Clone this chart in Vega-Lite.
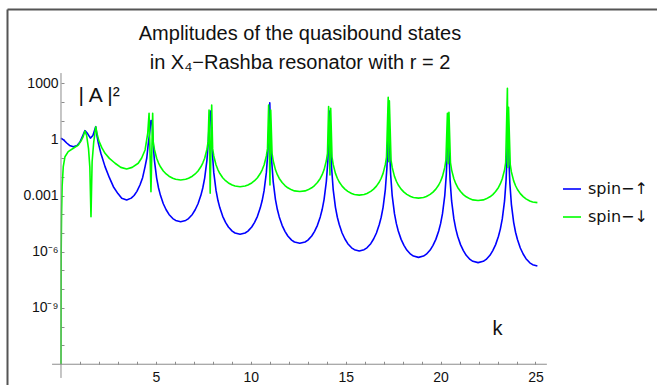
{
"$schema": "https://vega.github.io/schema/vega-lite/v6.json",
"width": 650, "height": 376,
"autosize": {"type": "none"},
"padding": {"left": 7, "top": 9, "right": 0, "bottom": 0},
"background": "white",
"config": {"view": {"stroke": null}},
"title": {"text": ["Amplitudes of the quasibound states", "in X₄−Rashba resonator with r = 2"], "fontSize": 20, "font": "Liberation Sans", "fontWeight": "normal", "color": "#111", "lineHeight": 29, "anchor": "middle", "dx": -32, "offset": -64},
"data": {"values": [
{"k":0,"A2":1.15,"spin":"spin−↑"},{"k":0.15,"A2":0.891,"spin":"spin−↑"},{"k":0.3,"A2":0.631,"spin":"spin−↑"},{"k":0.45,"A2":0.468,"spin":"spin−↑"},{"k":0.65,"A2":0.398,"spin":"spin−↑"},{"k":0.85,"A2":0.468,"spin":"spin−↑"},{"k":1.0,"A2":0.708,"spin":"spin−↑"},{"k":1.15,"A2":1.585,"spin":"spin−↑"},{"k":1.26,"A2":2.88,"spin":"spin−↑"},{"k":1.4,"A2":2.0,"spin":"spin−↑"},{"k":1.55,"A2":1.15,"spin":"spin−↑"},{"k":1.68,"A2":1.585,"spin":"spin−↑"},{"k":1.83,"A2":4.68,"spin":"spin−↑"},{"k":1.9,"A2":1.41,"spin":"spin−↑"},{"k":1.97,"A2":0.603,"spin":"spin−↑"},{"k":2.1,"A2":0.178,"spin":"spin−↑"},{"k":2.32,"A2":0.0347,"spin":"spin−↑"},{"k":2.55,"A2":0.00891,"spin":"spin−↑"},{"k":2.76,"A2":0.00295,"spin":"spin−↑"},{"k":3.0,"A2":0.00126,"spin":"spin−↑"},{"k":3.2,"A2":0.000708,"spin":"spin−↑"},{"k":3.46,"A2":0.000575,"spin":"spin−↑"},{"k":3.7,"A2":0.000724,"spin":"spin−↑"},{"k":3.85,"A2":0.001,"spin":"spin−↑"},{"k":4.0,"A2":0.00166,"spin":"spin−↑"},{"k":4.16,"A2":0.00363,"spin":"spin−↑"},{"k":4.3,"A2":0.00891,"spin":"spin−↑"},{"k":4.43,"A2":0.0347,"spin":"spin−↑"},{"k":4.52,"A2":0.1,"spin":"spin−↑"},{"k":4.6,"A2":0.603,"spin":"spin−↑"},{"k":4.68,"A2":2.51,"spin":"spin−↑"},{"k":4.74,"A2":10,"spin":"spin−↑"},
{"k":4.80,"A2":9.55,"spin":"spin−↑"},{"k":4.84,"A2":1.0,"spin":"spin−↑"},{"k":4.92,"A2":0.0776,"spin":"spin−↑"},{"k":5.04,"A2":0.00851,"spin":"spin−↑"},{"k":5.14,"A2":0.00251,"spin":"spin−↑"},{"k":5.24,"A2":0.00102,"spin":"spin−↑"},{"k":5.39,"A2":3.63e-4,"spin":"spin−↑"},{"k":5.54,"A2":1.74e-4,"spin":"spin−↑"},{"k":5.69,"A2":9.77e-5,"spin":"spin−↑"},{"k":5.89,"A2":5.89e-5,"spin":"spin−↑"},{"k":6.04,"A2":4.68e-5,"spin":"spin−↑"},{"k":6.305,"A2":3.98e-5,"spin":"spin−↑"},{"k":6.57,"A2":4.68e-5,"spin":"spin−↑"},{"k":6.72,"A2":5.89e-5,"spin":"spin−↑"},{"k":6.92,"A2":9.77e-5,"spin":"spin−↑"},{"k":7.07,"A2":1.74e-4,"spin":"spin−↑"},{"k":7.22,"A2":3.63e-4,"spin":"spin−↑"},{"k":7.37,"A2":0.00102,"spin":"spin−↑"},{"k":7.47,"A2":0.00251,"spin":"spin−↑"},{"k":7.57,"A2":0.00851,"spin":"spin−↑"},{"k":7.69,"A2":0.0776,"spin":"spin−↑"},{"k":7.77,"A2":1.0,"spin":"spin−↑"},{"k":7.81,"A2":9.55,"spin":"spin−↑"},{"k":7.87,"A2":31.6,"spin":"spin−↑"},
{"k":7.93,"A2":2.04,"spin":"spin−↑"},{"k":7.97,"A2":0.214,"spin":"spin−↑"},{"k":8.05,"A2":0.0166,"spin":"spin−↑"},{"k":8.17,"A2":0.00182,"spin":"spin−↑"},{"k":8.27,"A2":5.37e-4,"spin":"spin−↑"},{"k":8.37,"A2":2.19e-4,"spin":"spin−↑"},{"k":8.52,"A2":7.76e-5,"spin":"spin−↑"},{"k":8.67,"A2":3.72e-5,"spin":"spin−↑"},{"k":8.82,"A2":2.09e-5,"spin":"spin−↑"},{"k":9.02,"A2":1.26e-5,"spin":"spin−↑"},{"k":9.17,"A2":1.0e-5,"spin":"spin−↑"},{"k":9.435,"A2":8.51e-6,"spin":"spin−↑"},{"k":9.7,"A2":1.0e-5,"spin":"spin−↑"},{"k":9.85,"A2":1.26e-5,"spin":"spin−↑"},{"k":10.05,"A2":2.09e-5,"spin":"spin−↑"},{"k":10.2,"A2":3.72e-5,"spin":"spin−↑"},{"k":10.35,"A2":7.76e-5,"spin":"spin−↑"},{"k":10.5,"A2":2.19e-4,"spin":"spin−↑"},{"k":10.6,"A2":5.37e-4,"spin":"spin−↑"},{"k":10.7,"A2":0.00182,"spin":"spin−↑"},{"k":10.82,"A2":0.0166,"spin":"spin−↑"},{"k":10.9,"A2":0.214,"spin":"spin−↑"},{"k":10.94,"A2":2.04,"spin":"spin−↑"},{"k":11.0,"A2":89.1,"spin":"spin−↑"},
{"k":11.06,"A2":0.676,"spin":"spin−↑"},{"k":11.1,"A2":0.0708,"spin":"spin−↑"},{"k":11.18,"A2":0.0055,"spin":"spin−↑"},{"k":11.3,"A2":6.03e-4,"spin":"spin−↑"},{"k":11.4,"A2":1.78e-4,"spin":"spin−↑"},{"k":11.5,"A2":7.24e-5,"spin":"spin−↑"},{"k":11.65,"A2":2.57e-5,"spin":"spin−↑"},{"k":11.8,"A2":1.23e-5,"spin":"spin−↑"},{"k":11.95,"A2":6.92e-6,"spin":"spin−↑"},{"k":12.15,"A2":4.17e-6,"spin":"spin−↑"},{"k":12.3,"A2":3.31e-6,"spin":"spin−↑"},{"k":12.58,"A2":2.82e-6,"spin":"spin−↑"},{"k":12.86,"A2":3.31e-6,"spin":"spin−↑"},{"k":13.01,"A2":4.17e-6,"spin":"spin−↑"},{"k":13.21,"A2":6.92e-6,"spin":"spin−↑"},{"k":13.36,"A2":1.23e-5,"spin":"spin−↑"},{"k":13.51,"A2":2.57e-5,"spin":"spin−↑"},{"k":13.66,"A2":7.24e-5,"spin":"spin−↑"},{"k":13.76,"A2":1.78e-4,"spin":"spin−↑"},{"k":13.86,"A2":6.03e-4,"spin":"spin−↑"},{"k":13.98,"A2":0.0055,"spin":"spin−↑"},{"k":14.06,"A2":0.0708,"spin":"spin−↑"},{"k":14.1,"A2":0.676,"spin":"spin−↑"},{"k":14.16,"A2":31.6,"spin":"spin−↑"},
{"k":14.22,"A2":0.263,"spin":"spin−↑"},{"k":14.26,"A2":0.0275,"spin":"spin−↑"},{"k":14.34,"A2":0.00214,"spin":"spin−↑"},{"k":14.46,"A2":2.34e-4,"spin":"spin−↑"},{"k":14.56,"A2":6.92e-5,"spin":"spin−↑"},{"k":14.66,"A2":2.82e-5,"spin":"spin−↑"},{"k":14.81,"A2":1.0e-5,"spin":"spin−↑"},{"k":14.96,"A2":4.79e-6,"spin":"spin−↑"},{"k":15.11,"A2":2.69e-6,"spin":"spin−↑"},{"k":15.31,"A2":1.62e-6,"spin":"spin−↑"},{"k":15.46,"A2":1.29e-6,"spin":"spin−↑"},{"k":15.715,"A2":1.1e-6,"spin":"spin−↑"},{"k":15.97,"A2":1.29e-6,"spin":"spin−↑"},{"k":16.12,"A2":1.62e-6,"spin":"spin−↑"},{"k":16.32,"A2":2.69e-6,"spin":"spin−↑"},{"k":16.47,"A2":4.79e-6,"spin":"spin−↑"},{"k":16.62,"A2":1.0e-5,"spin":"spin−↑"},{"k":16.77,"A2":2.82e-5,"spin":"spin−↑"},{"k":16.87,"A2":6.92e-5,"spin":"spin−↑"},{"k":16.97,"A2":2.34e-4,"spin":"spin−↑"},{"k":17.09,"A2":0.00214,"spin":"spin−↑"},{"k":17.17,"A2":0.0275,"spin":"spin−↑"},{"k":17.21,"A2":0.263,"spin":"spin−↑"},{"k":17.27,"A2":63.1,"spin":"spin−↑"},
{"k":17.33,"A2":0.12,"spin":"spin−↑"},{"k":17.37,"A2":0.0126,"spin":"spin−↑"},{"k":17.45,"A2":9.77e-4,"spin":"spin−↑"},{"k":17.57,"A2":1.07e-4,"spin":"spin−↑"},{"k":17.67,"A2":3.16e-5,"spin":"spin−↑"},{"k":17.77,"A2":1.29e-5,"spin":"spin−↑"},{"k":17.92,"A2":4.57e-6,"spin":"spin−↑"},{"k":18.07,"A2":2.19e-6,"spin":"spin−↑"},{"k":18.22,"A2":1.23e-6,"spin":"spin−↑"},{"k":18.42,"A2":7.41e-7,"spin":"spin−↑"},{"k":18.57,"A2":5.89e-7,"spin":"spin−↑"},{"k":18.835,"A2":5.01e-7,"spin":"spin−↑"},{"k":19.1,"A2":5.89e-7,"spin":"spin−↑"},{"k":19.25,"A2":7.41e-7,"spin":"spin−↑"},{"k":19.45,"A2":1.23e-6,"spin":"spin−↑"},{"k":19.6,"A2":2.19e-6,"spin":"spin−↑"},{"k":19.75,"A2":4.57e-6,"spin":"spin−↑"},{"k":19.9,"A2":1.29e-5,"spin":"spin−↑"},{"k":20.0,"A2":3.16e-5,"spin":"spin−↑"},{"k":20.1,"A2":1.07e-4,"spin":"spin−↑"},{"k":20.22,"A2":9.77e-4,"spin":"spin−↑"},{"k":20.3,"A2":0.0126,"spin":"spin−↑"},{"k":20.34,"A2":0.12,"spin":"spin−↑"},{"k":20.4,"A2":15.8,"spin":"spin−↑"},
{"k":20.46,"A2":0.0631,"spin":"spin−↑"},{"k":20.5,"A2":0.00661,"spin":"spin−↑"},{"k":20.58,"A2":5.13e-4,"spin":"spin−↑"},{"k":20.7,"A2":5.62e-5,"spin":"spin−↑"},{"k":20.8,"A2":1.66e-5,"spin":"spin−↑"},{"k":20.9,"A2":6.76e-6,"spin":"spin−↑"},{"k":21.05,"A2":2.4e-6,"spin":"spin−↑"},{"k":21.2,"A2":1.15e-6,"spin":"spin−↑"},{"k":21.35,"A2":6.46e-7,"spin":"spin−↑"},{"k":21.55,"A2":3.89e-7,"spin":"spin−↑"},{"k":21.7,"A2":3.09e-7,"spin":"spin−↑"},{"k":21.975,"A2":2.63e-7,"spin":"spin−↑"},{"k":22.25,"A2":3.09e-7,"spin":"spin−↑"},{"k":22.4,"A2":3.89e-7,"spin":"spin−↑"},{"k":22.6,"A2":6.46e-7,"spin":"spin−↑"},{"k":22.75,"A2":1.15e-6,"spin":"spin−↑"},{"k":22.9,"A2":2.4e-6,"spin":"spin−↑"},{"k":23.05,"A2":6.76e-6,"spin":"spin−↑"},{"k":23.15,"A2":1.66e-5,"spin":"spin−↑"},{"k":23.25,"A2":5.62e-5,"spin":"spin−↑"},{"k":23.37,"A2":5.13e-4,"spin":"spin−↑"},{"k":23.45,"A2":0.00661,"spin":"spin−↑"},{"k":23.49,"A2":0.0631,"spin":"spin−↑"},{"k":23.55,"A2":28.2,"spin":"spin−↑"},
{"k":23.61,"A2":0.0417,"spin":"spin−↑"},{"k":23.65,"A2":0.00437,"spin":"spin−↑"},{"k":23.73,"A2":3.39e-4,"spin":"spin−↑"},{"k":23.85,"A2":3.72e-5,"spin":"spin−↑"},{"k":23.95,"A2":1.1e-5,"spin":"spin−↑"},{"k":24.05,"A2":4.47e-6,"spin":"spin−↑"},{"k":24.2,"A2":1.58e-6,"spin":"spin−↑"},{"k":24.35,"A2":7.59e-7,"spin":"spin−↑"},{"k":24.5,"A2":4.27e-7,"spin":"spin−↑"},{"k":24.7,"A2":2.57e-7,"spin":"spin−↑"},{"k":24.85,"A2":2.04e-7,"spin":"spin−↑"},{"k":25.1,"A2":1.74e-7,"spin":"spin−↑"},
{"k":0,"A2":1e-12,"spin":"spin−↓"},{"k":0.01,"A2":1e-6,"spin":"spin−↓"},{"k":0.03,"A2":1e-4,"spin":"spin−↓"},{"k":0.06,"A2":0.00316,"spin":"spin−↓"},{"k":0.12,"A2":0.0347,"spin":"spin−↓"},{"k":0.21,"A2":0.117,"spin":"spin−↓"},{"k":0.38,"A2":0.219,"spin":"spin−↓"},{"k":0.65,"A2":0.331,"spin":"spin−↓"},{"k":0.91,"A2":0.49,"spin":"spin−↓"},{"k":1.05,"A2":0.794,"spin":"spin−↓"},{"k":1.17,"A2":1.38,"spin":"spin−↓"},{"k":1.26,"A2":2.75,"spin":"spin−↓"},{"k":1.35,"A2":1.585,"spin":"spin−↓"},{"k":1.45,"A2":0.316,"spin":"spin−↓"},{"k":1.52,"A2":0.0316,"spin":"spin−↓"},{"k":1.58,"A2":7.41e-5,"spin":"spin−↓"},{"k":1.64,"A2":0.0631,"spin":"spin−↓"},{"k":1.72,"A2":0.631,"spin":"spin−↓"},{"k":1.83,"A2":4.68,"spin":"spin−↓"},{"k":1.9,"A2":2.0,"spin":"spin−↓"},{"k":2.0,"A2":0.794,"spin":"spin−↓"},{"k":2.15,"A2":0.355,"spin":"spin−↓"},{"k":2.32,"A2":0.178,"spin":"spin−↓"},{"k":2.55,"A2":0.0955,"spin":"spin−↓"},{"k":2.85,"A2":0.0525,"spin":"spin−↓"},{"k":3.15,"A2":0.0316,"spin":"spin−↓"},{"k":3.46,"A2":0.0257,"spin":"spin−↓"},{"k":3.75,"A2":0.0316,"spin":"spin−↓"},{"k":4.07,"A2":0.0525,"spin":"spin−↓"},{"k":4.25,"A2":0.1,"spin":"spin−↓"},{"k":4.43,"A2":0.269,"spin":"spin−↓"},{"k":4.57,"A2":2.09,"spin":"spin−↓"},{"k":4.64,"A2":24.0,"spin":"spin−↓"},{"k":4.74,"A2":0.00158,"spin":"spin−↓"},{"k":4.83,"A2":24.0,"spin":"spin−↓"},
{"k":4.86,"A2":0.724,"spin":"spin−↓"},{"k":4.92,"A2":0.295,"spin":"spin−↓"},{"k":5.04,"A2":0.0977,"spin":"spin−↓"},{"k":5.14,"A2":0.0537,"spin":"spin−↓"},{"k":5.24,"A2":0.0339,"spin":"spin−↓"},{"k":5.39,"A2":0.0204,"spin":"spin−↓"},{"k":5.54,"A2":0.0141,"spin":"spin−↓"},{"k":5.69,"A2":0.0107,"spin":"spin−↓"},{"k":5.89,"A2":0.00832,"spin":"spin−↓"},{"k":6.04,"A2":0.00733,"spin":"spin−↓"},{"k":6.305,"A2":0.00676,"spin":"spin−↓"},{"k":6.57,"A2":0.00733,"spin":"spin−↓"},{"k":6.72,"A2":0.00832,"spin":"spin−↓"},{"k":6.92,"A2":0.0107,"spin":"spin−↓"},{"k":7.07,"A2":0.0141,"spin":"spin−↓"},{"k":7.22,"A2":0.0204,"spin":"spin−↓"},{"k":7.37,"A2":0.0339,"spin":"spin−↓"},{"k":7.47,"A2":0.0537,"spin":"spin−↓"},{"k":7.57,"A2":0.0977,"spin":"spin−↓"},{"k":7.69,"A2":0.295,"spin":"spin−↓"},{"k":7.75,"A2":0.724,"spin":"spin−↓"},{"k":7.8,"A2":36.3,"spin":"spin−↓"},{"k":7.86,"A2":0.00132,"spin":"spin−↓"},{"k":7.94,"A2":67.6,"spin":"spin−↓"},
{"k":7.99,"A2":0.316,"spin":"spin−↓"},{"k":8.05,"A2":0.129,"spin":"spin−↓"},{"k":8.17,"A2":0.0427,"spin":"spin−↓"},{"k":8.27,"A2":0.0234,"spin":"spin−↓"},{"k":8.37,"A2":0.0148,"spin":"spin−↓"},{"k":8.52,"A2":0.00891,"spin":"spin−↓"},{"k":8.67,"A2":0.00617,"spin":"spin−↓"},{"k":8.82,"A2":0.00468,"spin":"spin−↓"},{"k":9.02,"A2":0.00363,"spin":"spin−↓"},{"k":9.17,"A2":0.0032,"spin":"spin−↓"},{"k":9.435,"A2":0.00295,"spin":"spin−↓"},{"k":9.7,"A2":0.0032,"spin":"spin−↓"},{"k":9.85,"A2":0.00363,"spin":"spin−↓"},{"k":10.05,"A2":0.00468,"spin":"spin−↓"},{"k":10.2,"A2":0.00617,"spin":"spin−↓"},{"k":10.35,"A2":0.00891,"spin":"spin−↓"},{"k":10.5,"A2":0.0148,"spin":"spin−↓"},{"k":10.6,"A2":0.0234,"spin":"spin−↓"},{"k":10.7,"A2":0.0427,"spin":"spin−↓"},{"k":10.82,"A2":0.129,"spin":"spin−↓"},{"k":10.88,"A2":0.316,"spin":"spin−↓"},{"k":10.94,"A2":67.6,"spin":"spin−↓"},{"k":11.01,"A2":0.00363,"spin":"spin−↓"},{"k":11.05,"A2":36.3,"spin":"spin−↓"},
{"k":11.12,"A2":0.174,"spin":"spin−↓"},{"k":11.18,"A2":0.0708,"spin":"spin−↓"},{"k":11.3,"A2":0.0234,"spin":"spin−↓"},{"k":11.4,"A2":0.0129,"spin":"spin−↓"},{"k":11.5,"A2":0.00813,"spin":"spin−↓"},{"k":11.65,"A2":0.0049,"spin":"spin−↓"},{"k":11.8,"A2":0.00339,"spin":"spin−↓"},{"k":11.95,"A2":0.00257,"spin":"spin−↓"},{"k":12.15,"A2":0.002,"spin":"spin−↓"},{"k":12.3,"A2":0.00176,"spin":"spin−↓"},{"k":12.58,"A2":0.00162,"spin":"spin−↓"},{"k":12.86,"A2":0.00176,"spin":"spin−↓"},{"k":13.01,"A2":0.002,"spin":"spin−↓"},{"k":13.21,"A2":0.00257,"spin":"spin−↓"},{"k":13.36,"A2":0.00339,"spin":"spin−↓"},{"k":13.51,"A2":0.0049,"spin":"spin−↓"},{"k":13.66,"A2":0.00813,"spin":"spin−↓"},{"k":13.76,"A2":0.0129,"spin":"spin−↓"},{"k":13.86,"A2":0.0234,"spin":"spin−↓"},{"k":13.98,"A2":0.0708,"spin":"spin−↓"},{"k":14.04,"A2":0.174,"spin":"spin−↓"},{"k":14.1,"A2":55.0,"spin":"spin−↓"},{"k":14.17,"A2":0.0123,"spin":"spin−↓"},{"k":14.21,"A2":44.7,"spin":"spin−↓"},
{"k":14.28,"A2":0.112,"spin":"spin−↓"},{"k":14.34,"A2":0.0457,"spin":"spin−↓"},{"k":14.46,"A2":0.0151,"spin":"spin−↓"},{"k":14.56,"A2":0.00832,"spin":"spin−↓"},{"k":14.66,"A2":0.00525,"spin":"spin−↓"},{"k":14.81,"A2":0.00316,"spin":"spin−↓"},{"k":14.96,"A2":0.00219,"spin":"spin−↓"},{"k":15.11,"A2":0.00166,"spin":"spin−↓"},{"k":15.31,"A2":0.00129,"spin":"spin−↓"},{"k":15.46,"A2":0.001135,"spin":"spin−↓"},{"k":15.715,"A2":0.00105,"spin":"spin−↓"},{"k":15.97,"A2":0.001135,"spin":"spin−↓"},{"k":16.12,"A2":0.00129,"spin":"spin−↓"},{"k":16.32,"A2":0.00166,"spin":"spin−↓"},{"k":16.47,"A2":0.00219,"spin":"spin−↓"},{"k":16.62,"A2":0.00316,"spin":"spin−↓"},{"k":16.77,"A2":0.00525,"spin":"spin−↓"},{"k":16.87,"A2":0.00832,"spin":"spin−↓"},{"k":16.97,"A2":0.0151,"spin":"spin−↓"},{"k":17.09,"A2":0.0457,"spin":"spin−↓"},{"k":17.15,"A2":0.112,"spin":"spin−↓"},{"k":17.24,"A2":174,"spin":"spin−↓"},{"k":17.27,"A2":0.0631,"spin":"spin−↓"},{"k":17.3,"A2":112,"spin":"spin−↓"},
{"k":17.39,"A2":0.0776,"spin":"spin−↓"},{"k":17.45,"A2":0.0316,"spin":"spin−↓"},{"k":17.57,"A2":0.0105,"spin":"spin−↓"},{"k":17.67,"A2":0.00575,"spin":"spin−↓"},{"k":17.77,"A2":0.00363,"spin":"spin−↓"},{"k":17.92,"A2":0.00219,"spin":"spin−↓"},{"k":18.07,"A2":0.00151,"spin":"spin−↓"},{"k":18.22,"A2":0.00115,"spin":"spin−↓"},{"k":18.42,"A2":8.91e-4,"spin":"spin−↓"},{"k":18.57,"A2":7.85e-4,"spin":"spin−↓"},{"k":18.835,"A2":7.24e-4,"spin":"spin−↓"},{"k":19.1,"A2":7.85e-4,"spin":"spin−↓"},{"k":19.25,"A2":8.91e-4,"spin":"spin−↓"},{"k":19.45,"A2":0.00115,"spin":"spin−↓"},{"k":19.6,"A2":0.00151,"spin":"spin−↓"},{"k":19.75,"A2":0.00219,"spin":"spin−↓"},{"k":19.9,"A2":0.00363,"spin":"spin−↓"},{"k":20.0,"A2":0.00575,"spin":"spin−↓"},{"k":20.1,"A2":0.0105,"spin":"spin−↓"},{"k":20.22,"A2":0.0316,"spin":"spin−↓"},{"k":20.28,"A2":0.0776,"spin":"spin−↓"},{"k":20.36,"A2":24.0,"spin":"spin−↓"},{"k":20.4,"A2":0.0501,"spin":"spin−↓"},{"k":20.44,"A2":27.5,"spin":"spin−↓"},
{"k":20.52,"A2":0.0575,"spin":"spin−↓"},{"k":20.58,"A2":0.0234,"spin":"spin−↓"},{"k":20.7,"A2":0.00776,"spin":"spin−↓"},{"k":20.8,"A2":0.00427,"spin":"spin−↓"},{"k":20.9,"A2":0.00269,"spin":"spin−↓"},{"k":21.05,"A2":0.00162,"spin":"spin−↓"},{"k":21.2,"A2":0.00112,"spin":"spin−↓"},{"k":21.35,"A2":8.51e-4,"spin":"spin−↓"},{"k":21.55,"A2":6.61e-4,"spin":"spin−↓"},{"k":21.7,"A2":5.82e-4,"spin":"spin−↓"},{"k":21.975,"A2":5.37e-4,"spin":"spin−↓"},{"k":22.25,"A2":5.82e-4,"spin":"spin−↓"},{"k":22.4,"A2":6.61e-4,"spin":"spin−↓"},{"k":22.6,"A2":8.51e-4,"spin":"spin−↓"},{"k":22.75,"A2":0.00112,"spin":"spin−↓"},{"k":22.9,"A2":0.00162,"spin":"spin−↓"},{"k":23.05,"A2":0.00269,"spin":"spin−↓"},{"k":23.15,"A2":0.00427,"spin":"spin−↓"},{"k":23.25,"A2":0.00776,"spin":"spin−↓"},{"k":23.37,"A2":0.0234,"spin":"spin−↓"},{"k":23.43,"A2":0.0575,"spin":"spin−↓"},{"k":23.52,"A2":525,"spin":"spin−↓"},{"k":23.55,"A2":0.0316,"spin":"spin−↓"},{"k":23.58,"A2":50.1,"spin":"spin−↓"},
{"k":23.67,"A2":0.0447,"spin":"spin−↓"},{"k":23.73,"A2":0.0182,"spin":"spin−↓"},{"k":23.85,"A2":0.00603,"spin":"spin−↓"},{"k":23.95,"A2":0.00331,"spin":"spin−↓"},{"k":24.05,"A2":0.00209,"spin":"spin−↓"},{"k":24.2,"A2":0.00126,"spin":"spin−↓"},{"k":24.35,"A2":8.71e-4,"spin":"spin−↓"},{"k":24.5,"A2":6.61e-4,"spin":"spin−↓"},{"k":24.7,"A2":5.13e-4,"spin":"spin−↓"},{"k":24.85,"A2":4.52e-4,"spin":"spin−↓"},{"k":25.1,"A2":4.17e-4,"spin":"spin−↓"}
]},
"resolve": {"axis": {"x": "independent", "y": "independent"}},
"layer": [
{
"mark": {"type": "line", "strokeWidth": 1.6, "strokeJoin": "round", "clip": true},
"encoding": {
"x": {"field": "k", "type": "quantitative", "scale": {"domain": [-2.845, 31.402], "nice": false, "zero": false},
 "axis": {"orient": "bottom", "offset": -20.75, "values": [1,2,3,4,5,6,7,8,9,10,11,12,13,14,15,16,17,18,19,20,21,22,23,24,25], "labelExpr": "datum.value % 5 == 0 ? datum.label : ''", "domain": false, "grid": false, "tickSize": -3, "tickColor": "#8c8c8c", "labelPadding": 9, "labelFontSize": 14, "labelFont": "Liberation Sans", "labelColor": "#111", "labelOverlap": false, "labelFlush": false,
  "title": "k", "titleX": 490, "titleY": -30, "titleAlign": "center", "titleBaseline": "alphabetic", "titleFontSize": 20, "titleFont": "Liberation Sans", "titleFontWeight": "normal", "titleColor": "#111"}},
"y": {"field": "A2", "type": "quantitative", "scale": {"type": "log", "domain": [7.82e-14, 8.85e6], "nice": false},
 "axis": {"orient": "left", "offset": -54, "values": [1000,100,10,1,0.1,0.01,0.001,1e-4,1e-5,1e-6,1e-7,1e-8,1e-9,1e-10,1e-11],
  "labelExpr": "round(log(datum.value)/LN10) == 3 ? '1000' : round(log(datum.value)/LN10) == 0 ? '1' : round(log(datum.value)/LN10) == -3 ? '0.001' : round(log(datum.value)/LN10) == -6 ? '10⁻⁶' : round(log(datum.value)/LN10) == -9 ? '10⁻⁹' : ''",
  "domain": false, "grid": false, "tickSize": -3, "tickColor": "#8c8c8c", "labelPadding": 6, "labelFontSize": 14, "labelFont": "Liberation Sans", "labelColor": "#111", "labelOverlap": false, "labelFlush": false,
  "title": "| A |²", "titleAngle": 0, "titleX": 17, "titleY": 92, "titleAlign": "left", "titleBaseline": "alphabetic", "titleFontSize": 21, "titleFont": "Liberation Sans", "titleFontWeight": "normal", "titleColor": "#111"}},
"color": {"field": "spin", "type": "nominal", "scale": {"domain": ["spin−↑", "spin−↓"], "range": ["#0000ff", "#00ff00"]},
 "legend": {"orient": "none", "legendX": 555, "legendY": 170, "title": null, "symbolType": "stroke", "symbolSize": 324, "symbolStrokeWidth": 1.6, "labelFontSize": 16, "labelFont": "DejaVu Sans", "labelColor": "#111", "labelOffset": 6, "rowPadding": 10, "padding": 0}}
}
},
{
"data": {"values": [{}]},
"mark": {"type": "rule", "color": "#8c8c8c", "strokeWidth": 1},
"encoding": {
"x": {"datum": 0, "type": "quantitative", "axis": {"orient": "top", "domain": true, "domainColor": "#555555", "domainWidth": 2, "ticks": false, "labels": false, "grid": false, "title": null}},
"y": {"datum": 1.86e-13, "type": "quantitative", "axis": {"orient": "left", "offset": 0, "domain": true, "domainColor": "#555555", "domainWidth": 2, "ticks": false, "labels": false, "grid": false, "title": null}},
"y2": {"datum": 3390}
}
},
{
"data": {"values": [{}]},
"mark": {"type": "rule", "color": "#8c8c8c", "strokeWidth": 1},
"encoding": {
"x": {"datum": -0.47, "type": "quantitative", "axis": null},
"x2": {"datum": 25.6},
"y": {"datum": 1e-12, "type": "quantitative", "axis": null}
}
}
]
}
